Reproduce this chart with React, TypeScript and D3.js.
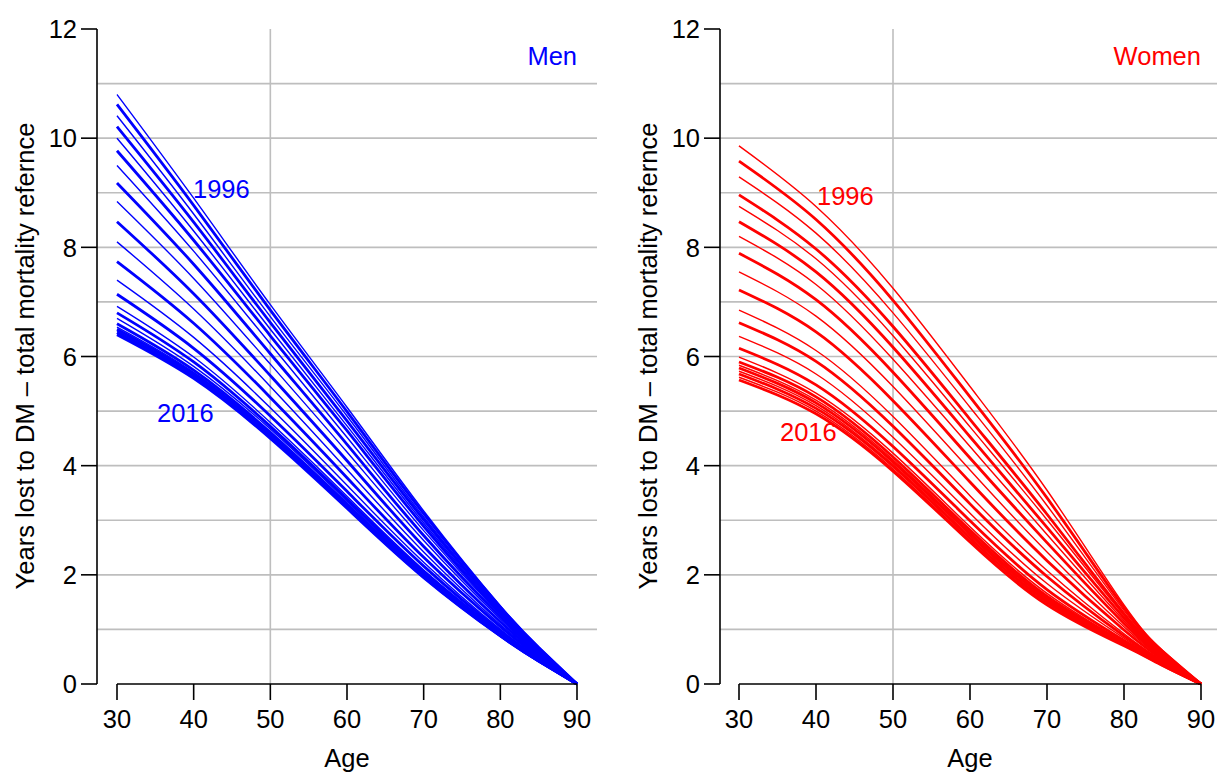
import React from "react";
import * as d3 from "d3";

const ages = [30, 40, 50, 60, 70, 80, 85, 90];

// Men: value of each curve (1996 -> 2016) at each age
const menAt30 = [10.8, 10.62, 10.41, 10.21, 10.0, 9.77, 9.5, 9.18, 8.84, 8.47, 8.1, 7.74, 7.4, 7.14, 6.92, 6.8, 6.7, 6.6, 6.54, 6.5, 6.47, 6.44, 6.42, 6.4];
const menAt40 = [8.9, 8.77, 8.61, 8.46, 8.3, 8.13, 7.93, 7.69, 7.43, 7.15, 6.87, 6.61, 6.35, 6.15, 5.99, 5.9, 5.82, 5.75, 5.71, 5.68, 5.65, 5.63, 5.62, 5.6];
const menAt50 = [6.95, 6.85, 6.73, 6.62, 6.5, 6.38, 6.23, 6.05, 5.86, 5.65, 5.45, 5.25, 5.06, 4.91, 4.79, 4.72, 4.67, 4.61, 4.58, 4.56, 4.54, 4.52, 4.51, 4.5];
const menAt60 = [5.07, 4.99, 4.91, 4.82, 4.73, 4.64, 4.52, 4.39, 4.25, 4.09, 3.93, 3.78, 3.64, 3.53, 3.44, 3.39, 3.35, 3.3, 3.28, 3.26, 3.25, 3.24, 3.23, 3.22];
const menAt70 = [3.17, 3.12, 3.06, 3.01, 2.95, 2.89, 2.81, 2.72, 2.63, 2.52, 2.42, 2.32, 2.23, 2.16, 2.09, 2.06, 2.03, 2.01, 1.99, 1.98, 1.97, 1.96, 1.96, 1.95];
const menAt80 = [1.43, 1.41, 1.38, 1.36, 1.33, 1.3, 1.27, 1.23, 1.19, 1.14, 1.09, 1.05, 1.0, 0.97, 0.95, 0.93, 0.92, 0.9, 0.9, 0.89, 0.89, 0.88, 0.88, 0.88];
const menAt85 = [0.68, 0.67, 0.66, 0.65, 0.63, 0.62, 0.6, 0.58, 0.56, 0.54, 0.52, 0.5, 0.48, 0.46, 0.45, 0.44, 0.44, 0.43, 0.43, 0.42, 0.42, 0.42, 0.42, 0.42];

// Women
const womenAt30 = [9.86, 9.58, 9.29, 8.96, 8.75, 8.47, 8.2, 7.89, 7.55, 7.22, 6.85, 6.62, 6.37, 6.15, 5.99, 5.9, 5.84, 5.79, 5.73, 5.68, 5.62, 5.57];
const womenAt40 = [8.75, 8.51, 8.26, 7.97, 7.79, 7.55, 7.32, 7.04, 6.74, 6.45, 6.11, 5.91, 5.68, 5.48, 5.33, 5.26, 5.2, 5.15, 5.1, 5.05, 5.0, 4.95];
const womenAt50 = [7.25, 7.03, 6.8, 6.55, 6.38, 6.17, 5.95, 5.71, 5.45, 5.19, 4.9, 4.72, 4.52, 4.35, 4.23, 4.16, 4.11, 4.07, 4.02, 3.99, 3.94, 3.9];
const womenAt60 = [5.45, 5.26, 5.07, 4.85, 4.71, 4.53, 4.35, 4.14, 3.92, 3.7, 3.45, 3.3, 3.13, 2.99, 2.88, 2.82, 2.78, 2.75, 2.71, 2.67, 2.63, 2.6];
const womenAt70 = [3.55, 3.41, 3.27, 3.11, 3.01, 2.87, 2.74, 2.59, 2.42, 2.26, 2.08, 1.97, 1.84, 1.73, 1.66, 1.61, 1.58, 1.56, 1.53, 1.51, 1.48, 1.45];
const womenAt80 = [1.45, 1.4, 1.35, 1.29, 1.26, 1.21, 1.16, 1.11, 1.05, 0.99, 0.92, 0.88, 0.84, 0.8, 0.77, 0.76, 0.75, 0.74, 0.73, 0.72, 0.71, 0.7];
const womenAt85 = [0.62, 0.6, 0.58, 0.56, 0.55, 0.53, 0.51, 0.49, 0.47, 0.45, 0.42, 0.41, 0.39, 0.38, 0.37, 0.36, 0.36, 0.35, 0.35, 0.35, 0.34, 0.34];

const yTicks = [0, 2, 4, 6, 8, 10, 12];
const yGrid = [1, 2, 3, 4, 5, 6, 7, 8, 9, 10, 11];
const xTicks = [30, 40, 50, 60, 70, 80, 90];

const FONT = "'Liberation Sans', Arial, Helvetica, sans-serif";
const FS = 25.5;

function buildCurves(cols: number[][]): number[][] {
  const n = cols[0].length;
  const out: number[][] = [];
  for (let i = 0; i < n; i++) {
    const row = cols.map((c) => c[i]);
    row.push(0); // age 90
    out.push(row);
  }
  return out;
}

type PanelProps = {
  x0: number;
  x1: number;
  axisX: number;
  gridRight: number;
  color: string;
  title: string;
  curves: number[][];
  lab1996: [number, number];
  lab2016: [number, number];
  yLabelX: number;
};

function Panel(p: PanelProps) {
  const x = d3.scaleLinear().domain([30, 90]).range([p.x0, p.x1]);
  const y = d3.scaleLinear().domain([0, 12]).range([684, 29]);
  const line = d3
    .line<number>()
    .x((_, i) => x(ages[i]))
    .y((d) => y(d))
    .curve(d3.curveNatural);
  const grid = "#bebebe";
  return (
    <g>
      {yGrid.map((v) => (
        <line key={"g" + v} x1={p.axisX} x2={p.gridRight} y1={y(v)} y2={y(v)} stroke={grid} strokeWidth={1.6} />
      ))}
      <line x1={x(50)} x2={x(50)} y1={y(12)} y2={y(0)} stroke={grid} strokeWidth={1.6} />
      {p.curves.map((c, i) => (
        <path
          key={"c" + i}
          d={line(c) || ""}
          fill="none"
          stroke={p.color}
          strokeWidth={i % 2 === 1 ? 2.8 : 1.4}
        />
      ))}
      {/* y axis */}
      <line x1={p.axisX} x2={p.axisX} y1={y(0)} y2={y(12)} stroke="#000" strokeWidth={1.6} />
      {yTicks.map((t) => (
        <g key={"yt" + t}>
          <line x1={p.axisX - 16} x2={p.axisX} y1={y(t)} y2={y(t)} stroke="#000" strokeWidth={1.6} />
          <text x={p.axisX - 20} y={y(t)} dy="0.36em" textAnchor="end" fontSize={FS} fontFamily={FONT} fill="#000">
            {t}
          </text>
        </g>
      ))}
      {/* x axis */}
      <line x1={x(30)} x2={x(90)} y1={684} y2={684} stroke="#000" strokeWidth={1.6} />
      {xTicks.map((t) => (
        <g key={"xt" + t}>
          <line x1={x(t)} x2={x(t)} y1={684} y2={700} stroke="#000" strokeWidth={1.6} />
          <text x={x(t)} y={728} textAnchor="middle" fontSize={FS} fontFamily={FONT} fill="#000">
            {t}
          </text>
        </g>
      ))}
      <text x={x(60)} y={767} textAnchor="middle" fontSize={FS} fontFamily={FONT} fill="#000">
        Age
      </text>
      <text
        transform={`translate(${p.yLabelX},356) rotate(-90)`}
        textAnchor="middle"
        fontSize={FS}
        fontFamily={FONT}
        fill="#000"
      >
        Years lost to DM – total mortality refernce
      </text>
      <text x={x(90)} y={65} textAnchor="end" fontSize={FS} fontFamily={FONT} fill={p.color}>
        {p.title}
      </text>
      <text x={p.lab1996[0]} y={p.lab1996[1]} fontSize={FS} fontFamily={FONT} fill={p.color}>
        1996
      </text>
      <text x={p.lab2016[0]} y={p.lab2016[1]} fontSize={FS} fontFamily={FONT} fill={p.color}>
        2016
      </text>
    </g>
  );
}

export default function App() {
  const men = buildCurves([menAt30, menAt40, menAt50, menAt60, menAt70, menAt80, menAt85]);
  const women = buildCurves([womenAt30, womenAt40, womenAt50, womenAt60, womenAt70, womenAt80, womenAt85]);
  return (
    <svg
      width={1217}
      height={772}
      style={{ position: "absolute", left: 0, top: 0, background: "#fff" }}
    >
      <rect width={1217} height={772} fill="#fff" />
      <Panel
        x0={117}
        x1={577}
        axisX={97}
        gridRight={597}
        color="#0000ff"
        title="Men"
        curves={men}
        lab1996={[193, 198]}
        lab2016={[157, 422]}
        yLabelX={34}
      />
      <Panel
        x0={739}
        x1={1201}
        axisX={720}
        gridRight={1217}
        color="#ff0000"
        title="Women"
        curves={women}
        lab1996={[817, 205]}
        lab2016={[780, 441]}
        yLabelX={657}
      />
    </svg>
  );
}
